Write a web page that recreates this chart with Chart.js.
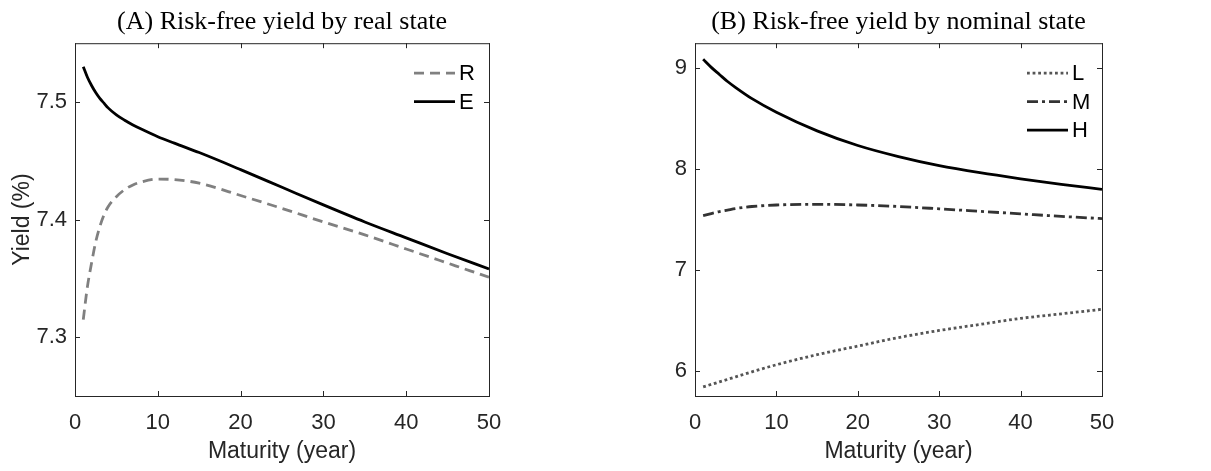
<!DOCTYPE html>
<html>
<head>
<meta charset="utf-8">
<script src="https://cdn.jsdelivr.net/npm/chart.js@4"></script>
<style>
  html, body { margin: 0; padding: 0; background: #fff; }
  #wrap { position: relative; width: 1211px; height: 471px; }
  canvas { position: absolute; top: 0; }
</style>
</head>
<body>
<div id="wrap">
  <canvas id="chartA" width="600" height="471" style="left:0"></canvas>
  <canvas id="chartB" width="611" height="471" style="left:600px"></canvas>
</div>
<script>
// panel A: real state
var maturityA = [1, 1.5, 2, 2.5, 3, 3.5, 4, 5, 6, 7, 8, 10, 12, 15, 20, 25, 30, 35, 40, 45, 50];
var yieldR = [7.315, 7.343, 7.363, 7.381, 7.394, 7.404, 7.411, 7.4195, 7.4255, 7.4295, 7.432, 7.4345, 7.434, 7.431, 7.4205, 7.4095, 7.398, 7.387, 7.375, 7.363, 7.351];
var yieldE = [7.530, 7.521, 7.514, 7.508, 7.503, 7.499, 7.495, 7.489, 7.4845, 7.4805, 7.477, 7.4705, 7.465, 7.457, 7.4425, 7.4275, 7.4125, 7.398, 7.3845, 7.371, 7.358];

// panel B: nominal state
var maturityB = [1, 2, 3, 4, 5, 7, 10, 15, 20, 25, 30, 35, 40, 45, 50];
var yieldL = [5.84, 5.865, 5.89, 5.915, 5.94, 5.99, 6.06, 6.16, 6.245, 6.33, 6.40, 6.46, 6.52, 6.565, 6.61];
var yieldM = [7.54, 7.56, 7.58, 7.595, 7.61, 7.63, 7.645, 7.652, 7.645, 7.63, 7.607, 7.582, 7.557, 7.532, 7.51];
var yieldH = [9.09, 9.01, 8.94, 8.87, 8.81, 8.70, 8.565, 8.38, 8.235, 8.125, 8.035, 7.965, 7.905, 7.85, 7.80];

var xTicks = [0, 10, 20, 30, 40, 50];
var yTicksA = [7.3, 7.4, 7.5];
var yTicksB = [6, 7, 8, 9];

var AXIS = '#262626';
var SANS = "'Liberation Sans', Arial, sans-serif";

function pts(xs, ys) {
  return xs.map(function(x, i) { return { x: x, y: ys[i] }; });
}

function line(label, xs, ys, color, dash) {
  return {
    label: label,
    data: pts(xs, ys),
    borderColor: color,
    borderWidth: 2.8,
    borderDash: dash,
    pointRadius: 0,
    fill: false,
    cubicInterpolationMode: 'monotone'
  };
}

// box frame, inward ticks, and in-plot legend
var frame = {
  id: 'frame',
  afterDraw: function(chart) {
    var ctx = chart.ctx, a = chart.chartArea;
    var xs = chart.scales.x, ys = chart.scales.y;
    ctx.save();
    ctx.strokeStyle = AXIS;
    ctx.lineWidth = 1;
    ctx.setLineDash([]);
    ctx.strokeRect(a.left + 0.5, a.top + 0.5, a.right - a.left, a.bottom - a.top);
    var t = 5;
    ctx.beginPath();
    xs.ticks.forEach(function(tk) {
      var px = Math.round(xs.getPixelForValue(tk.value)) + 0.5;
      ctx.moveTo(px, a.bottom); ctx.lineTo(px, a.bottom - t);
      ctx.moveTo(px, a.top); ctx.lineTo(px, a.top + t);
    });
    ys.ticks.forEach(function(tk) {
      var py = Math.round(ys.getPixelForValue(tk.value)) + 0.5;
      ctx.moveTo(a.left, py); ctx.lineTo(a.left + t, py);
      ctx.moveTo(a.right, py); ctx.lineTo(a.right - t, py);
    });
    ctx.stroke();

    // legend
    ctx.font = '22px ' + SANS;
    ctx.textBaseline = 'middle';
    ctx.textAlign = 'left';
    chart.data.datasets.forEach(function(ds, i) {
      var y = a.top + 30 + i * 28.5;
      ctx.strokeStyle = ds.borderColor;
      ctx.lineWidth = ds.borderWidth;
      ctx.setLineDash(ds.borderDash || []);
      ctx.beginPath();
      ctx.moveTo(a.right - 75, y);
      ctx.lineTo(a.right - 34, y);
      ctx.stroke();
      ctx.fillStyle = '#000';
      ctx.fillText(ds.label, a.right - 30, y + 1);
    });
    ctx.restore();
  }
};

function makeChart(id, title, datasets, yMin, yMax, yTicks, yWidth, rightPad, yLabel) {
  return new Chart(document.getElementById(id), {
    type: 'line',
    data: { datasets: datasets },
    options: {
      responsive: false,
      animation: false,
      layout: { padding: { left: 0, right: rightPad, top: 0, bottom: 0 } },
      plugins: {
        legend: { display: false },
        tooltip: { enabled: false },
        title: {
          display: true,
          fullSize: false,
          text: title,
          color: '#000',
          font: { family: "'Liberation Serif', 'Times New Roman', serif", size: 26, weight: 'normal' },
          padding: { top: 7, bottom: 5 }
        }
      },
      scales: {
        x: {
          type: 'linear',
          min: 0, max: 50,
          afterBuildTicks: function(s) { s.ticks = xTicks.map(function(v) { return { value: v }; }); },
          afterFit: function(s) { s.height = 75; },
          grid: { display: false, drawTicks: false },
          border: { display: false },
          ticks: { color: AXIS, padding: 14, font: { family: SANS, size: 22 }, maxRotation: 0 },
          title: { display: true, text: 'Maturity (year)', color: AXIS, font: { family: SANS, size: 23 }, padding: { top: 0, bottom: 6 } }
        },
        y: {
          type: 'linear',
          min: yMin, max: yMax,
          afterBuildTicks: function(s) { s.ticks = yTicks.map(function(v) { return { value: v }; }); },
          afterFit: function(s) { s.width = yWidth; },
          grid: { display: false, drawTicks: false },
          border: { display: false },
          ticks: { color: AXIS, padding: 8, font: { family: SANS, size: 22 },
            callback: function(v) { return String(v); } },
          title: { display: !!yLabel, text: yLabel || '', color: AXIS, font: { family: SANS, size: 23 }, padding: { top: 9, bottom: 0 } }
        }
      }
    },
    plugins: [frame]
  });
}

makeChart('chartA', '(A) Risk-free yield by real state', [
  line('R', maturityA, yieldR, '#808080', [10, 6]),
  line('E', maturityA, yieldE, '#000000', [])
], 7.25, 7.55, yTicksA, 75, 111, 'Yield (%)');

makeChart('chartB', '(B) Risk-free yield by nominal state', [
  line('L', maturityB, yieldL, '#555555', [2.8, 2.8]),
  line('M', maturityB, yieldM, '#333333', [11, 4, 3, 4]),
  line('H', maturityB, yieldH, '#000000', [])
], 5.75, 9.25, yTicksB, 95, 109, null);
</script>
</body>
</html>
